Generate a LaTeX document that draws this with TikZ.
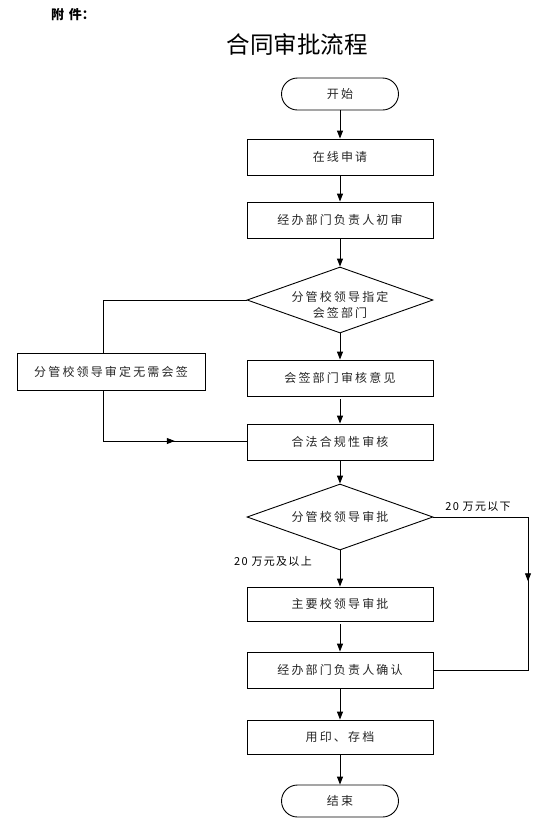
\documentclass[tikz,border=0pt]{standalone}
\usepackage{fontspec}
\setmainfont{Noto Sans CJK SC}
\newfontfamily\boxfont[LetterSpace=18]{Noto Sans CJK SC}
\newfontfamily\lblfont[LetterSpace=12]{Noto Sans CJK SC}
\usetikzlibrary{arrows.meta,shapes.geometric,calc}
\begin{document}
\begin{tikzpicture}[x=1pt,y=-1pt,
  line width=0.9pt,
  txt/.style={font=\boxfont\fontsize{12}{16}\selectfont, text=black!85},
  procbox/.style={draw, rectangle, minimum width=186pt, minimum height=36pt, inner sep=0pt, txt},
  termbox/.style={draw, rectangle, rounded corners=16pt, minimum width=117pt, minimum height=32pt, inner sep=0pt, txt},
  decbox/.style={draw, diamond, minimum width=186pt, minimum height=66pt, inner sep=0pt},
  arr/.style={-{Triangle[length=8pt,width=6pt]}},
  lbl/.style={font=\lblfont\fontsize{11}{13}\selectfont, text=black}
]
\useasboundingbox (0,0) rectangle (560,823);

\node[font=\fontsize{13}{15}\selectfont\bfseries] (att) at (73,15) {附\hspace{5pt}件：};
\node[font=\fontsize{23.5}{27}\selectfont] (title) at (297,45) {合同审批流程};

\node[termbox] (start) at (340,94) {开始};
\node[procbox] (apply) at (340,157) {在线申请};
\node[procbox] (first) at (340,220) {经办部门负责人初审};
\node[decbox] (d1) at (340,300) {};
\node[txt, align=center] (d1t) at (340,305) {分管校领导指定\\会签部门};
\node[draw, rectangle, minimum width=188pt, minimum height=37pt, inner sep=0pt, txt] (nosign) at (111,372) {分管校领导审定无需会签};
\node[procbox] (cosign) at (340,378) {会签部门审核意见};
\node[procbox] (legal) at (340,442) {合法合规性审核};
\node[decbox] (d2) at (340,517) {};
\node[txt] (d2t) at (340,517) {分管校领导审批};
\node[procbox, minimum height=34pt] (main) at (340,604) {主要校领导审批};
\node[procbox] (confirm) at (340,670) {经办部门负责人确认};
\node[procbox, minimum height=34pt] (seal) at (340,737) {用印、存档};
\node[termbox] (end) at (340,801) {结束};

\node[lbl] (lblow) at (478,507) {20 万元以下};
\node[lbl] (lbhigh) at (273,561) {20 万元及以上};

\coordinate (c1) at (103,300);
\coordinate (c2) at (103,441);
\coordinate (c3) at (528,517);
\coordinate (c4) at (528,670);

\draw[arr] (start) -- (apply);
\draw[arr] (apply) -- (first);
\draw[arr] (first) -- (d1.north);
\draw[arr] (d1.south) -- (cosign);
\draw[arr] ($(cosign.south)+(0,3)$) -- (legal.north);
\draw (d1.west) -- (c1) -- (nosign.north -| c1);
\draw (nosign.south -| c2) -- (c2) -- (legal.west |- c2);
\draw[arr] (c2) -- ($(c2)!0.5!(legal.west |- c2)$);
\draw[arr] (legal.south) -- (d2.north);
\draw[arr] (d2.south) -- (main);
\draw[arr] ($(main.south)+(0,3)$) -- (confirm.north);
\draw[arr] (confirm) -- (seal);
\draw[arr] (seal) -- (end);
\draw (d2.east) -- (c3) -- (c4) -- (confirm.east |- c4);
\draw[arr] (c3) -- ($(c3)!0.42!(c4)$);
\end{tikzpicture}
\end{document}
